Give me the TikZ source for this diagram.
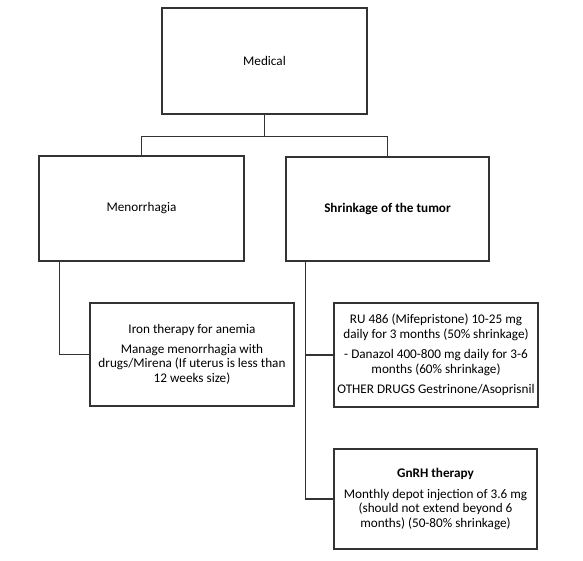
\documentclass[tikz,border=0pt]{standalone}
\usepackage{fontspec}
\setmainfont{Carlito}
\usetikzlibrary{positioning}

\begin{document}
\begin{tikzpicture}[
  x=1pt, y=-1pt,
  box/.style={draw=black!80, line width=1.3pt, align=center, inner sep=1pt,
    font=\fontsize{13.2}{14.5}\selectfont},
  link/.style={draw=black!80, line width=1.3pt}
]
\useasboundingbox (0,0) rectangle (583,561);
% boxes
\node[box, minimum width=205pt, minimum height=106pt] (medical) at (264.5,61) {Medical};
\node[box, minimum width=205pt, minimum height=105pt] (menor) at (141.5,208.5) {Menorrhagia};
\node[box, minimum width=203pt, minimum height=104pt] (shrink) at (387.5,209) {\textbf{Shrinkage of the tumor}};
\node[box, minimum width=204pt, minimum height=103pt] (iron) at (192,354.5)
  {Iron therapy for anemia\\[5pt]
   Manage menorrhagia with\\ drugs/Mirena (If uterus is less than\\ 12 weeks size)};
\node[box, minimum width=204pt, minimum height=104pt] (ru) at (436,355)
  {RU 486 (Mifepristone) 10-25 mg\\ daily for 3 months (50\% shrinkage)\\[6pt]
   - Danazol 400-800 mg daily for 3-6\\ months (60\% shrinkage)\\[6pt]
   OTHER DRUGS Gestrinone/Asoprisnil};
\node[box, minimum width=203pt, minimum height=100pt] (gnrh) at (435.5,499)
  {\textbf{GnRH therapy}\\[6pt]
   Monthly depot injection of 3.6 mg\\ (should not extend beyond 6\\ months) (50-80\% shrinkage)};
% connectors
\coordinate (fork) at ([yshift=-22pt]medical.south);
\draw[link] (medical.south) -- (fork);
\draw[link] (fork) -| (menor.north);
\draw[link] (fork) -| (shrink.north);
\coordinate (menorleg) at ([xshift=21pt]menor.south west);
\draw[link] (menorleg) |- (iron.west);
\coordinate (shrinkleg) at ([xshift=20pt]shrink.south west);
\draw[link] (shrinkleg) |- (ru.west);
\draw[link] (shrinkleg) |- (gnrh.west);
\end{tikzpicture}
\end{document}
